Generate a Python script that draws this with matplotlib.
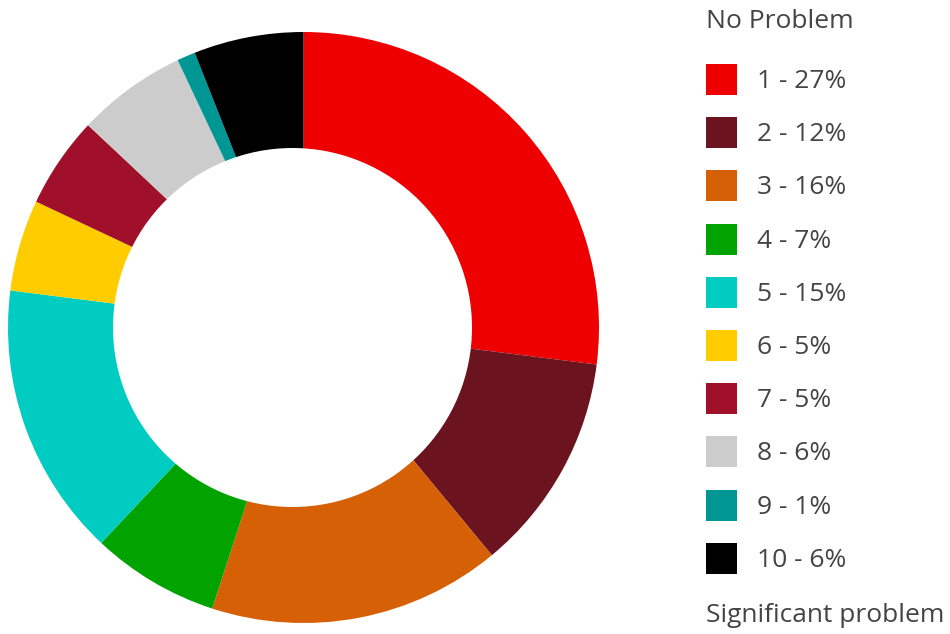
import matplotlib.pyplot as plt
from matplotlib.patches import Rectangle, Circle

plt.rcParams['font.family'] = ['Open Sans', 'DejaVu Sans']

# data
levels = ["1", "2", "3", "4", "5", "6", "7", "8", "9", "10"]
shares = [27, 12, 16, 7, 15, 5, 5, 6, 1, 6]
colors = ["#ee0000", "#6b1420", "#d66006", "#00a300", "#00ccc2",
          "#ffcc00", "#a0102a", "#cccccc", "#009694", "#000000"]
top_label = "No Problem"
bottom_label = "Significant problem"

W, H = 950, 634
fig = plt.figure(figsize=(W / 100, H / 100), dpi=100)

# donut (the hole sits a bit left of the ring's centre in the original)
cx, cy, r = 303.5, 327.5, 295.5
ax = fig.add_axes([(cx - r) / W, (H - cy - r) / H, 2 * r / W, 2 * r / H])
ax.pie(shares, colors=colors, startangle=90, counterclock=False, radius=1,
       wedgeprops=dict(linewidth=0))
ax.add_patch(Circle(((292.5 - cx) / r, 0), 179.5 / r, facecolor="white",
                    edgecolor="none"))
ax.set_xlim(-1, 1)
ax.set_ylim(-1, 1)
ax.set_aspect("equal")
ax.axis("off")

# legend
txt_color = "#444444"
fs = 19
x0 = 706
sq = 31
y_first = 79.5
step = 53.2
fig.text(x0 / W, 1 - 21 / H, top_label, fontsize=fs, color=txt_color,
         va="center", ha="left")
for i, (lv, s, c) in enumerate(zip(levels, shares, colors)):
    yc = y_first + i * step
    fig.patches.append(Rectangle((x0 / W, 1 - (yc + sq / 2) / H), sq / W, sq / H,
                                 facecolor=c, edgecolor="none",
                                 transform=fig.transFigure, figure=fig))
    fig.text(757 / W, 1 - (yc + 2) / H, f"{lv} - {s}%", fontsize=fs,
             color=txt_color, va="center", ha="left")
fig.text(x0 / W, 1 - 615 / H, bottom_label, fontsize=fs, color=txt_color,
         va="center", ha="left")

fig.savefig("out.png", dpi=100)
